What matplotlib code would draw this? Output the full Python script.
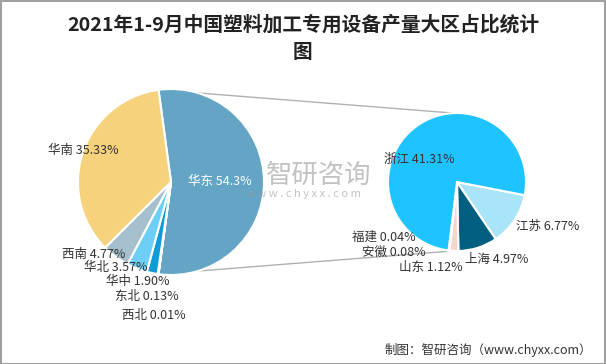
import matplotlib
matplotlib.use("Agg")
import matplotlib.pyplot as plt
import numpy as np
from matplotlib.patches import Rectangle

plt.rcParams['font.family'] = ['Noto Sans CJK SC', 'DejaVu Sans']

# ---- data ----
left_labels = ['华东', '西北', '东北', '华中', '华北', '西南', '华南']
left_values = [54.3, 0.01, 0.13, 1.90, 3.57, 4.77, 35.33]
left_colors = ['#64A5C5', '#2E75B6', '#1F5F8B', '#0E9BD8', '#6DCFF6', '#A5C0CC', '#F5D27B']

right_labels = ['江苏', '上海', '山东', '安徽', '福建', '浙江']
right_values = [6.77, 4.97, 1.12, 0.08, 0.04, 41.31]
right_colors = ['#A9E4F8', '#005F80', '#F7D5CF', '#E8B0A0', '#C8C8C8', '#1FC3FF']

title_lines = ['2021年1-9月中国塑料加工专用设备产量大区占比统计', '图']
source_text = '制图：智研咨询（www.chyxx.com）'

W, H = 606, 364
fig = plt.figure(figsize=(W / 100, H / 100), dpi=100)
ax = fig.add_axes([0, 0, 1, 1])

# left pie
lc = (171, H - 182)
lr = 93
start_l = left_values[0] / sum(left_values) * 360 / 2
ax.pie(left_values, colors=left_colors, startangle=start_l, counterclock=False,
       center=lc, radius=lr, wedgeprops=dict(edgecolor='white', linewidth=1.5))

# right pie
rc = (457, H - 182)
rr = 69
ax.pie(right_values, colors=right_colors, startangle=-11, counterclock=False,
       center=rc, radius=rr, wedgeprops=dict(edgecolor='white', linewidth=1.5))

ax.set_xlim(0, W)
ax.set_ylim(0, H)
ax.set_aspect('equal')
ax.axis('off')

# connector lines
a = np.deg2rad(start_l)
p_top = (lc[0] + lr * np.cos(a), lc[1] + lr * np.sin(a))
p_bot = (lc[0] + lr * np.cos(-a), lc[1] + lr * np.sin(-a))
b = np.deg2rad(93)
q_top = (rc[0] + rr * np.cos(b), rc[1] + rr * np.sin(b))
q_bot = (rc[0] + rr * np.cos(-b), rc[1] + rr * np.sin(-b))
ax.plot([p_top[0], q_top[0]], [p_top[1], q_top[1]], color='#B0B0B0', lw=1, zorder=0)
ax.plot([p_bot[0], q_bot[0]], [p_bot[1], q_bot[1]], color='#B0B0B0', lw=1, zorder=0)

# labels
fs = 9
left_pos = {'华东': (220, 181), '华南': (83, 150), '西南': (94, 254), '华北': (116, 268),
            '华中': (138, 282), '东北': (147, 296), '西北': (154, 316)}
for lab, val in zip(left_labels, left_values):
    x, y = left_pos[lab]
    col = 'white' if lab == '华东' else '#333333'
    ax.text(x, H - y, f'{lab} {val:g}%' if lab == '华东' else f'{lab} {val:.2f}%',
            ha='center', va='center', fontsize=fs, color=col, zorder=5)

right_pos = {'浙江': (419, 159), '江苏': (548, 226), '上海': (497, 259), '山东': (431, 267),
             '安徽': (394, 252), '福建': (384, 237)}
for lab, val in zip(right_labels, right_values):
    x, y = right_pos[lab]
    ax.text(x, H - y, f'{lab} {val:.2f}%', ha='center', va='center', fontsize=fs,
            color='#333333', zorder=5)

# watermark
ax.text(319, H - 175, '智研咨询', ha='center', va='center', fontsize=19, color='#9A9A9A',
        alpha=0.6, zorder=4)
ax.text(303, H - 194, 'w w w . c h y x x . c o m', ha='center', va='center', fontsize=8,
        color='#9A9A9A', alpha=0.6, zorder=4)

# title
fig.text(0.5, 1 - 25 / H, title_lines[0], ha='center', va='center', fontsize=14.2,
         fontweight='bold', color='#222222')
fig.text(0.5, 1 - 52 / H, title_lines[1], ha='center', va='center', fontsize=14.2,
         fontweight='bold', color='#222222')

# source
fig.text(592 / W, 1 - 350 / H, source_text, ha='right', va='center', fontsize=9,
         color='#333333')

# border
fig.patches.append(Rectangle((0.5 / W, 0.5 / H), 1 - 1.5 / W, 1 - 1.5 / H,
                             transform=fig.transFigure, fill=False,
                             edgecolor='#A0A0A0', linewidth=1.5))

fig.savefig('out.png', dpi=100)
